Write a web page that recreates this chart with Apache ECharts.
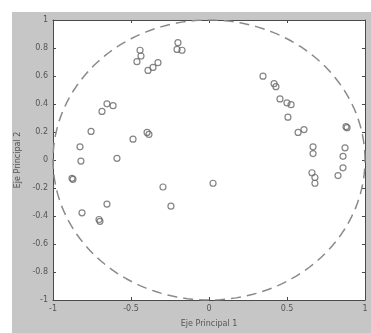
<!DOCTYPE html>
<html>
<head>
<meta charset="utf-8">
<script src="https://cdn.jsdelivr.net/npm/echarts@6/dist/echarts.min.js"></script>
<style>
html,body{margin:0;padding:0;background:#fff;}
#c{width:371px;height:333px;}
</style>
</head>
<body>
<div id="c"></div>
<script>
// Scatter points (Eje Principal 1, Eje Principal 2)
const xValues = [
  -0.199, -0.205, -0.173, -0.442, -0.436, -0.462, -0.391, -0.359, -0.327,
  -0.686, -0.654, -0.615, -0.756, -0.827, -0.821, -0.872, -0.878,
  -0.487, -0.397, -0.385, -0.590, -0.295, 0.026, -0.654, -0.244, -0.814,
  -0.705, -0.699,
  0.346, 0.417, 0.429, 0.455, 0.500, 0.526, 0.506, 0.571, 0.609,
  0.885, 0.878, 0.667, 0.667, 0.872, 0.859, 0.660, 0.679, 0.679, 0.859, 0.827
];
const yValues = [
  0.838, 0.790, 0.784, 0.784, 0.743, 0.702, 0.640, 0.661, 0.695,
  0.347, 0.401, 0.388, 0.204, 0.094, -0.008, -0.138, -0.131,
  0.149, 0.197, 0.183, 0.012, -0.193, -0.166, -0.315, -0.330, -0.377,
  -0.425, -0.438,
  0.599, 0.545, 0.524, 0.436, 0.408, 0.395, 0.306, 0.197, 0.217,
  0.231, 0.238, 0.094, 0.046, 0.087, 0.026, -0.091, -0.125, -0.166, -0.056, -0.111
];
const xTicks = [-1, -0.5, 0, 0.5, 1];
const yTicks = [-1, -0.8, -0.6, -0.4, -0.2, 0, 0.2, 0.4, 0.6, 0.8, 1];
const xLabel = 'Eje Principal 1';
const yLabel = 'Eje Principal 2';

// Unit reference circle (geometry, not data)
const circleSteps = 180;
const unitCircle = [];
for (let i = 0; i <= circleSteps; i++) {
  const a = 2 * Math.PI * i / circleSteps;
  unitCircle.push([Math.cos(a), Math.sin(a)]);
}

const points = xValues.map((x, i) => [x, yValues[i]]);

const fmt = v => (Math.abs(v) < 1e-9 ? '0' : String(+v.toFixed(1)));
const tickCol = '#4a4a4a';
const lblStyle = {color: '#555', fontSize: 8, fontFamily: 'DejaVu Sans'};
const lineOpts = {show: true, onZero: false, lineStyle: {color: tickCol, width: 1}};
const tickOpts = {show: true, inside: true, length: 3, lineStyle: {color: tickCol}};

const chart = echarts.init(document.getElementById('c'), null, {renderer: 'canvas'});
chart.setOption({
  animation: false,
  backgroundColor: '#fff',
  graphic: [{
    type: 'rect', left: 12, top: 12, z: -10,
    shape: {width: 359, height: 321},
    style: {fill: '#c6c6c6'}
  }],
  grid: {left: 53, right: 6, top: 20, bottom: 20, show: true, backgroundColor: '#fff', borderWidth: 0},
  xAxis: [{
    type: 'value', min: -1, max: 1, interval: 0.5,
    name: xLabel, nameLocation: 'middle', nameGap: 20,
    nameTextStyle: {color: '#555', fontSize: 8, fontFamily: 'DejaVu Sans'},
    axisLine: lineOpts, axisTick: tickOpts,
    axisLabel: Object.assign({margin: 5, formatter: fmt}, lblStyle),
    splitLine: {show: false}
  }, {
    type: 'value', min: -1, max: 1, interval: 0.5, position: 'top',
    axisLine: lineOpts, axisTick: tickOpts,
    axisLabel: {show: false}, splitLine: {show: false}
  }],
  yAxis: [{
    type: 'value', min: -1, max: 1, interval: 0.2,
    name: yLabel, nameLocation: 'middle', nameGap: 24, nameRotate: 90,
    nameTextStyle: {color: '#555', fontSize: 8, fontFamily: 'DejaVu Sans'},
    axisLine: lineOpts, axisTick: tickOpts,
    axisLabel: Object.assign({margin: 5, formatter: fmt}, lblStyle),
    splitLine: {show: false}
  }, {
    type: 'value', min: -1, max: 1, interval: 0.2, position: 'right',
    axisLine: lineOpts, axisTick: tickOpts,
    axisLabel: {show: false}, splitLine: {show: false}
  }],
  series: [{
    type: 'line', data: unitCircle, showSymbol: false, symbol: 'none',
    lineStyle: {color: '#8a8a8a', width: 1.5, type: [10, 6]},
    silent: true, z: 1
  }, {
    type: 'scatter', data: points, symbol: 'circle', symbolSize: 6,
    itemStyle: {color: 'rgba(255,255,255,0)', borderColor: '#666', borderWidth: 1.2},
    z: 2
  }]
});
</script>
</body>
</html>
